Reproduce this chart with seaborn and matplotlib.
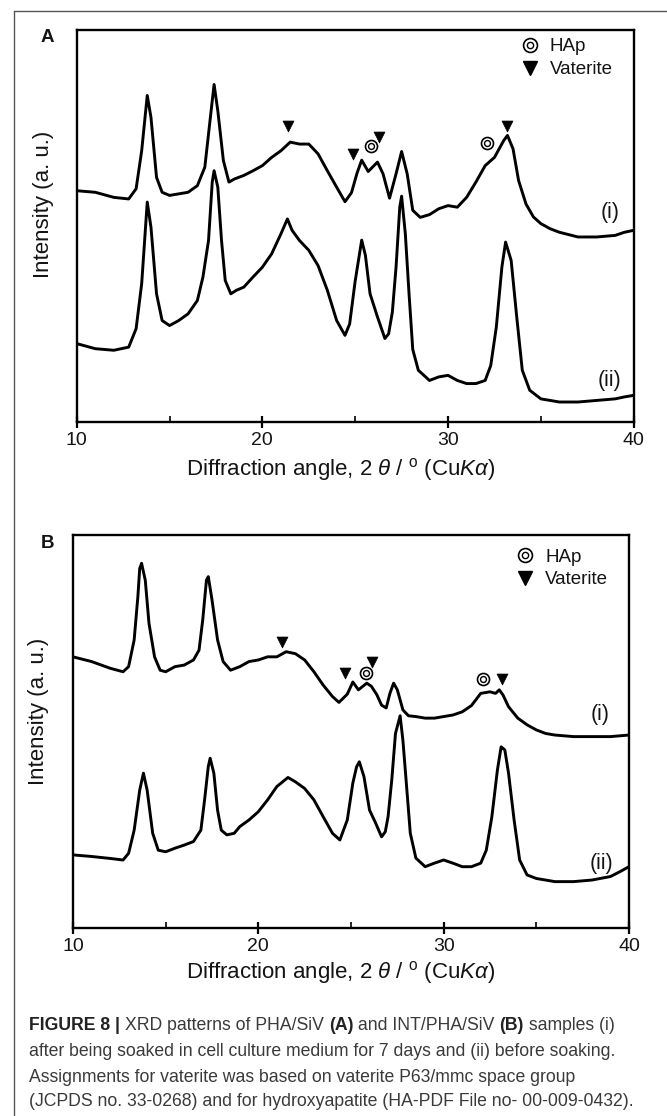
import matplotlib
matplotlib.use("Agg")
import matplotlib.pyplot as plt
from matplotlib.lines import Line2D
from matplotlib.legend_handler import HandlerTuple
import seaborn as sns
import pandas as pd

# ---------------- data ----------------
a1_x = [10, 11, 12, 12.8, 13.2, 13.5, 13.8, 14.0, 14.3, 14.6, 15, 16, 16.5, 16.9, 17.2,
        17.4, 17.6, 17.9, 18.2, 18.5, 19, 19.5, 20, 20.5, 21, 21.5, 22, 22.5, 23, 23.5,
        24, 24.45, 24.8, 25.1, 25.35, 25.7, 26.2, 26.5, 26.85, 27.2, 27.5, 27.8, 28.1, 28.5,
        29, 29.5, 30, 30.5, 31, 31.5, 32, 32.5, 33, 33.2, 33.5, 33.8, 34.2, 34.6, 35, 35.5,
        36, 37, 38, 39, 39.5, 40]
a1_y = [59.0, 58.6, 57.3, 56.9, 59.5, 69.2, 83.3, 77.7, 62.4, 58.6, 57.8, 58.6, 60.3, 65.0, 77.7,
        86.1, 79.4, 66.7, 61.2, 62.0, 62.9, 64.1, 65.4, 67.5, 69.2, 71.4, 70.9, 70.9, 68.4, 64.1,
        59.9, 56.2, 58.5, 63.5, 66.8, 63.9, 66.3, 63.3, 57.1, 63.3, 69.0, 63.3, 54.0, 52.2,
        52.9, 54.4, 55.2, 54.8, 57.3, 61.2, 65.4, 67.5, 71.8, 73.1, 69.7, 61.6, 55.6, 52.3, 50.6, 49.3,
        48.4, 47.2, 47.2, 47.6, 48.4, 48.9]

a2_x = [10, 11, 12, 12.8, 13.2, 13.5, 13.8, 14.0, 14.3, 14.6, 15, 15.5, 16, 16.5, 16.8,
        17.1, 17.3, 17.4, 17.6, 17.8, 18.0, 18.3, 18.6, 19, 19.5, 20, 20.5, 21, 21.35, 21.6,
        22, 22.5, 23, 23.5, 24, 24.45, 24.7, 25, 25.35, 25.55, 25.8, 26.2, 26.6, 26.8, 27,
        27.2, 27.4, 27.5, 27.7, 27.9, 28.1, 28.4, 29, 29.5, 30, 30.5, 31, 31.5, 32, 32.3,
        32.6, 32.9, 33.1, 33.4, 33.7, 34, 34.4, 35, 36, 37, 38, 39, 39.5, 40]
a2_y = [20.0, 18.7, 18.3, 19.1, 23.8, 35.3, 56.1, 49.7, 32.7, 25.9, 24.6, 25.9, 27.6, 31.0, 37.0,
        46.3, 61.2, 64.1, 59.9, 46.3, 36.1, 32.7, 33.6, 34.4, 37.0, 39.5, 42.9, 48.0, 51.8, 48.9,
        46.3, 43.8, 39.9, 33.6, 25.9, 22.1, 25.0, 36.0, 46.4, 42.5, 32.7, 26.8, 21.3, 22.5, 28.0,
        39.5, 54.8, 57.6, 48.0, 32.7, 18.5, 13.2, 10.6, 11.5, 11.9, 10.6, 9.8, 9.8, 10.6, 14.4,
        24.2, 39.5, 45.9, 41.2, 26.8, 13.2, 8.1, 5.9, 5.1, 5.1, 5.5, 5.9, 6.4, 6.8]

b1_x = [10, 11, 12, 12.7, 13.0, 13.3, 13.5, 13.6, 13.7, 13.9, 14.1, 14.4, 14.7, 15, 15.5,
        16, 16.5, 16.8, 17.0, 17.2, 17.3, 17.5, 17.8, 18.1, 18.5, 19, 19.5, 20, 20.5, 21,
        21.5, 22, 22.5, 23, 23.5, 24, 24.35, 24.8, 25.1, 25.4, 25.85, 26.1, 26.4, 26.65, 26.9,
        27.1, 27.3, 27.5, 27.8, 28.1, 28.5, 29, 29.5, 30, 30.5, 31, 31.5, 32, 32.5, 32.8,
        33.0, 33.2, 33.5, 34, 34.5, 35, 35.5, 36, 37, 38, 39, 40]
b1_y = [69.0, 67.8, 66.1, 65.2, 66.5, 73.3, 84.3, 91.5, 92.8, 88.5, 77.5, 69.0, 65.6, 65.2, 66.5,
        66.9, 68.2, 70.7, 78.4, 88.5, 89.4, 83.5, 73.3, 67.8, 65.6, 66.5, 67.8, 68.2, 69.0, 69.0,
        70.3, 69.8, 68.2, 65.2, 61.8, 58.9, 57.4, 59.5, 62.6, 60.6, 62.3, 61.5, 59.3, 56.7, 56.0,
        59.7, 62.3, 60.6, 55.5, 54.0, 53.8, 53.4, 53.4, 53.8, 54.2, 55.0, 56.6, 59.7, 60.1, 59.7,
        60.6, 59.3, 56.3, 53.4, 51.7, 50.4, 49.5, 49.1, 48.7, 48.7, 48.7, 49.1]

b2_x = [10, 11, 12, 12.7, 13.0, 13.3, 13.6, 13.8, 14.0, 14.3, 14.6, 15, 15.5, 16, 16.5,
        16.9, 17.1, 17.3, 17.4, 17.6, 17.8, 18.0, 18.3, 18.7, 19, 19.5, 20, 20.5, 21, 21.6,
        22, 22.5, 23, 23.5, 24, 24.4, 24.8, 25.1, 25.3, 25.45, 25.7, 26.0, 26.3, 26.65, 26.85,
        27.0, 27.2, 27.4, 27.65, 27.8, 28.0, 28.2, 28.5, 29, 29.5, 30, 30.5, 31, 31.5, 32,
        32.3, 32.6, 32.9, 33.1, 33.3, 33.5, 33.8, 34.1, 34.5, 35, 36, 37, 38, 39, 39.5, 40]
b2_y = [18.6, 18.2, 17.7, 17.3, 19.0, 24.9, 35.1, 39.4, 35.1, 24.1, 19.8, 19.4, 20.3, 21.1, 22.0,
        24.9, 32.6, 41.1, 43.2, 39.4, 30.0, 24.9, 23.7, 24.1, 25.8, 27.5, 29.6, 32.6, 36.0, 38.3,
        37.2, 35.5, 32.6, 28.3, 24.1, 22.4, 27.5, 36.9, 41.0, 42.3, 38.5, 30.0, 27.0, 23.2, 24.5,
        28.3, 37.7, 49.5, 54.0, 47.8, 36.0, 24.1, 17.8, 15.6, 16.5, 17.3, 16.5, 15.6, 15.6, 16.5,
        19.8, 28.3, 40.2, 46.1, 45.3, 39.4, 27.5, 17.3, 13.5, 12.6, 11.8, 11.8, 12.2, 13.1, 14.3,
        15.6]

# peak assignments (position, height of symbol)
a_vat_x = [21.40, 24.88, 26.26, 33.20]
a_vat_y = [75.4, 68.4, 72.6, 75.4]
a_hap_x = [25.85, 32.12]
a_hap_y = [70.5, 71.1]
b_vat_x = [21.25, 24.69, 26.16, 33.14]
b_vat_y = [72.7, 65.0, 67.8, 63.4]
b_hap_x = [25.81, 32.10]
b_hap_y = [64.8, 63.4]

a_lab_pos = [(38.74, 53.5), (38.67, 10.6)]
b_lab_pos = [(38.46, 54.2), (38.53, 16.5)]
curve_labels = ["(i)", "(ii)"]
legend_labels = ["HAp", "Vaterite"]
major_ticks = [10, 20, 30, 40]
minor_ticks = [15, 25, 35]

# ---------------- style ----------------
sns.set_theme(style="white")
plt.rcParams["font.family"] = ["Liberation Sans", "DejaVu Sans"]
plt.rcParams["mathtext.fontset"] = "custom"
plt.rcParams["mathtext.rm"] = "Liberation Sans"
plt.rcParams["mathtext.it"] = "Liberation Sans:italic"
plt.rcParams["mathtext.bf"] = "Liberation Sans:bold"

W, H = 667, 1116
fig = plt.figure(figsize=(W / 100, H / 100), dpi=100)
fig.patch.set_facecolor("white")

# outer frame
fig.add_artist(Line2D([14 / W, 14 / W], [0, 1 - 11 / H], color="#555555", lw=1.0))
fig.add_artist(Line2D([14 / W, 1], [1 - 11 / H, 1 - 11 / H], color="#555555", lw=1.0))

TXT = "#141414"
xlabel = r"Diffraction angle, 2 $\theta$ / $^{\mathrm{o}}$ (Cu$K\alpha$)"


def hap_marks(ax, xs, ys, size_out=75, size_in=18):
    sns.scatterplot(x=xs, y=ys, ax=ax, marker="o", s=size_out, facecolor="white",
                    edgecolor="black", linewidth=1.2, zorder=5)
    sns.scatterplot(x=xs, y=ys, ax=ax, marker="o", s=size_in, facecolor="white",
                    edgecolor="black", linewidth=1.0, zorder=6)


def panel(rect, c1x, c1y, c2x, c2y, vx, vy, hx, hy, labpos, letter, letter_xy,
          ylab_xy, xlab_xy, leg_anchor):
    ax = fig.add_axes(rect)
    df = pd.concat([
        pd.DataFrame({"angle": c1x, "intensity": c1y, "sample": "(i)"}),
        pd.DataFrame({"angle": c2x, "intensity": c2y, "sample": "(ii)"}),
    ])
    sns.lineplot(data=df, x="angle", y="intensity", units="sample", estimator=None,
                 sort=False, color="black", lw=2.1, ax=ax, legend=False)
    sns.scatterplot(x=vx, y=vy, ax=ax, marker="v", s=62, color="black",
                    edgecolor="black", linewidth=0.5, zorder=5)
    hap_marks(ax, hx, hy)
    for (lx, ly), t in zip(labpos, curve_labels):
        ax.text(lx, ly, t, ha="center", va="center", fontsize=15.5, color=TXT)

    ax.set_xlim(10, 40)
    ax.set_ylim(0, 100)
    ax.set_xticks(major_ticks)
    ax.set_xticks(minor_ticks, minor=True)
    ax.set_yticks([])
    ax.tick_params(axis="x", which="major", direction="inout", length=8, width=1.6,
                   pad=3, labelsize=14, colors="black", labelcolor=TXT, bottom=True)
    ax.tick_params(axis="x", which="minor", direction="in", length=4.5, width=1.4,
                   bottom=True)
    for s in ax.spines.values():
        s.set_visible(True)
        s.set_color("black")
        s.set_linewidth(1.7)
    ax.set_xlabel(xlabel, fontsize=16, color=TXT)
    ax.xaxis.set_label_coords(*xlab_xy)
    ax.set_ylabel("Intensity (a. u.)", fontsize=16, color=TXT)
    ax.yaxis.set_label_coords(*ylab_xy)

    # legend
    h_hap = (Line2D([], [], ls="none", marker="o", ms=10, mfc="white", mec="black", mew=1.2),
             Line2D([], [], ls="none", marker="o", ms=4.5, mfc="white", mec="black", mew=1.0))
    h_vat = Line2D([], [], ls="none", marker="v", ms=9.5, color="black")
    ax.legend([h_hap, h_vat], legend_labels, handler_map={tuple: HandlerTuple(ndivide=1)},
              loc="upper left", bbox_to_anchor=leg_anchor, frameon=False,
              fontsize=13.5, handlelength=1.2, handletextpad=0.45, labelspacing=0.3,
              borderaxespad=0.0, labelcolor=TXT)

    fig.text(letter_xy[0], letter_xy[1], letter, fontsize=13.5, fontweight="bold",
             color=TXT, ha="center", va="center")
    return ax


panel([76.7 / W, 1 - 422 / H, (633.7 - 76.7) / W, (422 - 30) / H],
      a1_x, a1_y, a2_x, a2_y, a_vat_x, a_vat_y, a_hap_x, a_hap_y, a_lab_pos,
      "A", (47 / W, 1 - 37 / H), (-0.040, 0.555), (0.4745, -0.088), (0.78, 0.998))
panel([73 / W, 1 - 928 / H, (629 - 73) / W, (928 - 535) / H],
      b1_x, b1_y, b2_x, b2_y, b_vat_x, b_vat_y, b_hap_x, b_hap_y, b_lab_pos,
      "B", (47 / W, 1 - 543 / H), (-0.044, 0.55), (0.482, -0.078), (0.78, 0.985))

# ---------------- caption ----------------
cap_lines = [
    [("FIGURE 8 | ", True), ("XRD patterns of PHA/SiV ", False), ("(A)", True),
     (" and INT/PHA/SiV ", False), ("(B)", True), (" samples (i)", False)],
    [("after being soaked in cell culture medium for 7 days and (ii) before soaking.", False)],
    [("Assignments for vaterite was based on vaterite P63/mmc space group", False)],
    [("(JCPDS no. 33-0268) and for hydroxyapatite (HA-PDF File no- 00-009-0432).", False)],
]
cap_y = [1025, 1051, 1077, 1101]
fig.canvas.draw()
renderer = fig.canvas.get_renderer()
for segs, yy in zip(cap_lines, cap_y):
    x = 29 / W
    for s, bold in segs:
        t = fig.text(x, 1 - yy / H, s, fontsize=12.7,
                     fontweight="bold" if bold else "normal",
                     color="#222222" if bold else "#3a3a3a", ha="left", va="center")
        bb = t.get_window_extent(renderer)
        x += bb.width / fig.bbox.width

fig.savefig("out.png", dpi=100)
